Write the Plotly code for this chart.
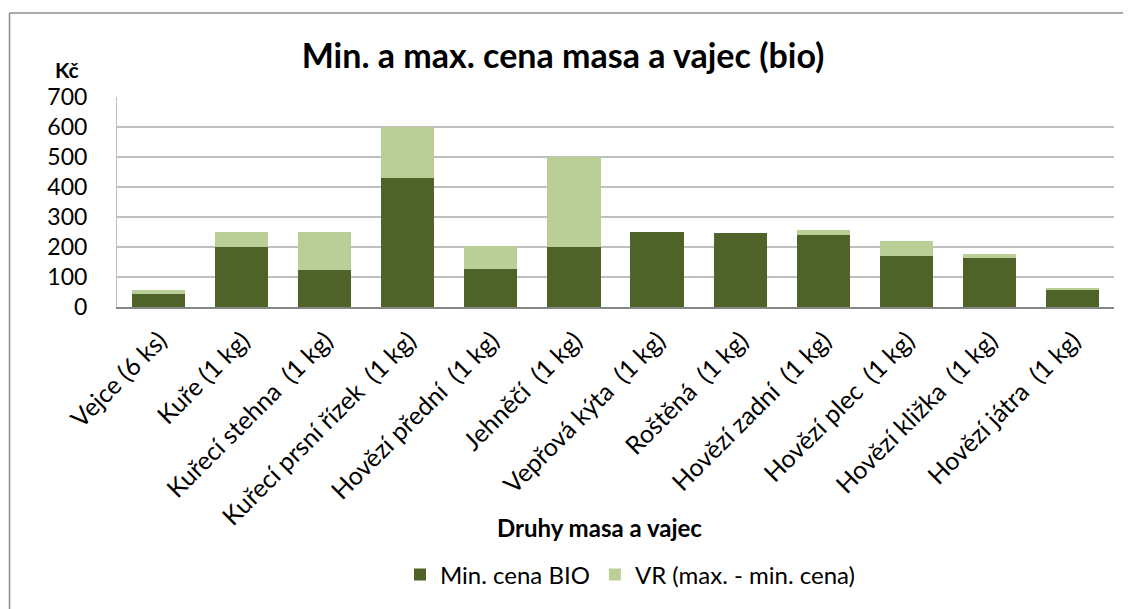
import plotly.graph_objects as go

categories = ["Vejce (6 ks)", "Kuře (1 kg)", "Kuřecí stehna  (1 kg)", "Kuřecí prsní řízek  (1 kg)",
              "Hovězí přední  (1 kg)", "Jehněčí  (1 kg)", "Vepřová kýta  (1 kg)", "Roštěná  (1 kg)",
              "Hovězí zadní  (1 kg)", "Hovězí plec  (1 kg)", "Hovězí kližka  (1 kg)", "Hovězí játra  (1 kg)"]
min_bio = [42, 200, 125, 430, 127, 200, 251, 247, 240, 170, 162, 58]
vr_range = [16, 50, 125, 170, 77, 300, 0, 0, 18, 50, 16, 5]
y_ticks = [0, 100, 200, 300, 400, 500, 600, 700]

FONT = "Lato"
OFF = 8  # page body margin
W, H = 1131 - OFF, 609 - OFF
L, R, T, B = 117 - OFF, 1114 - OFF, 97 - OFF, 307 - OFF

def px2x(px):  # px in reference coords
    return (px - OFF - L) / (R - L)

def py2y(py):
    return (B - (py - OFF)) / (B - T)

fig = go.Figure()
fig.add_trace(go.Bar(x=categories, y=min_bio, name="Min. cena BIO",
                     marker=dict(color="#4F6228", line=dict(width=0))))
fig.add_trace(go.Bar(x=categories, y=vr_range, name="VR (max. - min. cena)",
                     marker=dict(color="#BACF97", line=dict(width=0))))

fig.update_layout(
    width=W, height=H,
    barmode="stack", bargap=0.36,
    plot_bgcolor="white", paper_bgcolor="white",
    margin=dict(l=L, r=W - R, t=T, b=H - B, autoexpand=False),
    font=dict(family=FONT, color="black"),
    title=dict(text="<b>Min. a max. cena masa a vajec (bio)</b>", x=(563 - OFF) / W, xanchor="center",
               y=1 - (56 - OFF) / H, yanchor="middle", font=dict(size=34, family=FONT, color="black")),
    legend=dict(orientation="h", x=px2x(630), xanchor="center", y=py2y(575), yanchor="middle",
                font=dict(size=24, family=FONT), traceorder="normal", itemwidth=30),
    showlegend=True,
)
fig.update_yaxes(range=[0, 700], tickvals=y_ticks, showgrid=True, gridcolor="#C0C0C0", gridwidth=1.5,
                 tickfont=dict(size=23, family=FONT), ticks="", showline=True, linecolor="#BFBFBF",
                 linewidth=1, zeroline=False, ticklabelstandoff=24)
fig.update_xaxes(tickangle=-45, tickfont=dict(size=25, family=FONT), showline=True, linecolor="#868686",
                 linewidth=2, ticks="", showgrid=False, ticklabelshift=1, ticklabelstandoff=7)

fig.add_annotation(text="<b>Kč</b>", xref="paper", yref="paper", x=px2x(67), y=py2y(69),
                   showarrow=False, font=dict(size=21, family=FONT), xanchor="center", yanchor="middle")
fig.add_annotation(text="<b>Druhy masa a vajec</b>", xref="paper", yref="paper", x=px2x(599), y=py2y(527),
                   showarrow=False, font=dict(size=24, family=FONT), xanchor="center", yanchor="middle")

# chart border (left and top visible)
fig.add_shape(type="line", xref="paper", yref="paper", x0=px2x(9.5), x1=px2x(9.5), y0=py2y(640), y1=py2y(13),
              line=dict(color="#8C8C8C", width=1.5))
fig.add_shape(type="line", xref="paper", yref="paper", x0=px2x(9.5), x1=px2x(1160), y0=py2y(13), y1=py2y(13),
              line=dict(color="#8C8C8C", width=1.5))

fig.write_html("out.html")
